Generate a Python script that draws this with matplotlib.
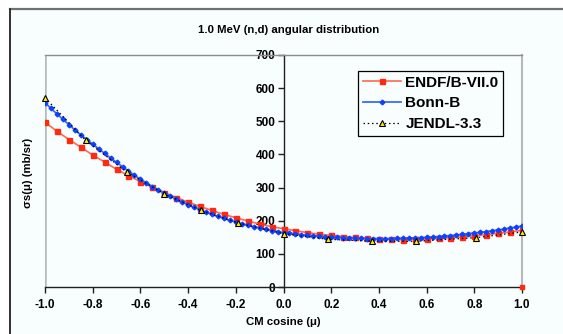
import numpy as np
import matplotlib
matplotlib.use("Agg")
import matplotlib.pyplot as plt
from matplotlib.patches import Rectangle
from matplotlib.lines import Line2D

plt.rcParams['font.family'] = ['Liberation Sans', 'DejaVu Sans']
plt.rcParams['axes.unicode_minus'] = False

# ---------------- data ----------------
title = "1.0 MeV (n,d) angular distribution"
xlabel = "CM cosine (μ)"
ylabel = "σs(μ) (mb/sr)"

endf_x = [-1.00, -0.95, -0.90, -0.85, -0.80, -0.75, -0.70, -0.65, -0.60, -0.55,
          -0.50, -0.45, -0.40, -0.35, -0.30, -0.25, -0.20, -0.15, -0.10, -0.05,
          0.00, 0.05, 0.10, 0.15, 0.20, 0.25, 0.30, 0.35, 0.40, 0.45,
          0.50, 0.55, 0.60, 0.65, 0.70, 0.75, 0.80, 0.85, 0.90, 0.95, 1.00]
endf_y = [497, 470, 445, 422, 398, 377, 355, 336, 318, 301,
          285, 270, 256, 243, 231, 219, 209, 199, 190, 182,
          176, 170, 164, 159, 156, 152, 150, 147, 145, 144,
          143, 144, 145, 147, 149, 151, 155, 158, 162, 166, 171]
endf_extra_x = [1.0]
endf_extra_y = [0]

bonn_x = [-1.000, -0.975, -0.950, -0.925, -0.900, -0.875, -0.850, -0.825, -0.800, -0.775,
          -0.750, -0.725, -0.700, -0.675, -0.650, -0.625, -0.600, -0.575, -0.550, -0.525,
          -0.500, -0.475, -0.450, -0.425, -0.400, -0.375, -0.350, -0.325, -0.300, -0.275,
          -0.250, -0.225, -0.200, -0.175, -0.150, -0.125, -0.100, -0.075, -0.050, -0.025,
          0.000, 0.025, 0.050, 0.075, 0.100, 0.125, 0.150, 0.175, 0.200, 0.225,
          0.250, 0.275, 0.300, 0.325, 0.350, 0.375, 0.400, 0.425, 0.450, 0.475,
          0.500, 0.525, 0.550, 0.575, 0.600, 0.625, 0.650, 0.675, 0.700, 0.725,
          0.750, 0.775, 0.800, 0.825, 0.850, 0.875, 0.900, 0.925, 0.950, 0.975, 1.000]
bonn_y = [556, 539, 522, 506, 490, 474, 459, 445, 431, 417,
          403, 389, 376, 363, 350, 337, 325, 314, 303, 293,
          283, 274, 265, 256, 248, 240, 233, 226, 219, 213,
          207, 201, 196, 191, 186, 182, 178, 174, 170, 167,
          164, 162, 160, 158, 156, 155, 153, 152, 151, 150,
          149, 148, 147, 147, 146, 146, 146, 146, 146, 147,
          147, 148, 148, 149, 150, 151, 152, 154, 155, 157,
          159, 161, 163, 165, 167, 170, 172, 175, 178, 181, 184]

jendl_x = [-1.0, -0.83, -0.657, -0.5, -0.346, -0.19, 0.0, 0.185, 0.371, 0.556, 0.809, 1.0]
jendl_y = [571, 443, 347, 281, 231, 193, 161, 144, 138, 138, 149, 166]

xticks = [-1.0, -0.8, -0.6, -0.4, -0.2, 0.0, 0.2, 0.4, 0.6, 0.8, 1.0]
xticklabels = ["-1.0", "-0.8", "-0.6", "-0.4", "-0.2", "0.0", "0.2", "0.4", "0.6", "0.8", "1.0"]
yticks = [0, 100, 200, 300, 400, 500, 600, 700]
yticklabels = ["0", "100", "200", "300", "400", "500", "600", "700"]

# ---------------- figure ----------------
W, H = 563, 334
fig = plt.figure(figsize=(W / 100, H / 100), dpi=100, facecolor='white')

bg = '#f8fdfe'
fig.patches.append(Rectangle((10 / W, 0), 1, 1 - 9 / H, transform=fig.transFigure,
                             facecolor=bg, edgecolor='none', zorder=-10))
fig.lines.append(Line2D([9.5 / W, 1], [1 - 9 / H, 1 - 9 / H], transform=fig.transFigure,
                        color='#707070', lw=1.6))
fig.lines.append(Line2D([9.5 / W, 9.5 / W], [0, 1 - 9 / H], transform=fig.transFigure,
                        color='#303030', lw=1.4))

ax = fig.add_axes([45 / W, 1 - 287 / H, (522 - 45) / W, (287 - 55) / H])
ax.set_facecolor(bg)
ax.set_xlim(-1, 1)
ax.set_ylim(0, 700)

# frame
ax.spines['top'].set_color('#8c8c8c')
ax.spines['right'].set_color('#b8b8b8')
ax.spines['top'].set_linewidth(1.0)
ax.spines['right'].set_linewidth(1.5)
ax.axvline(-1, color='#b8b8b8', lw=1.8, zorder=0)
ax.spines['left'].set_position(('data', 0))
ax.spines['left'].set_color('#202020')
ax.spines['left'].set_linewidth(1.0)
ax.spines['bottom'].set_color('#202020')
ax.spines['bottom'].set_linewidth(1.0)

ax.set_xticks(xticks)
ax.set_xticklabels(xticklabels, fontsize=8.5, fontweight='bold')
ax.set_yticks(yticks)
ax.set_yticklabels(yticklabels, fontsize=8.5, fontweight='bold')
ax.tick_params(axis='x', direction='out', length=4, width=1, pad=5, color='#202020')
ax.tick_params(axis='y', direction='out', length=4, width=1, pad=2, color='#202020')

# series
ax.plot(endf_x, endf_y, color='#ff6a50', lw=1.2, marker='s', ms=3.6,
        mfc='#ff2a10', mec='#ff2a10', label='ENDF/B-VII.0', zorder=3)
ax.plot(endf_extra_x, endf_extra_y, ls='none', marker='s', ms=3.0,
        mfc='#ff2a10', mec='#ff2a10', clip_on=False, zorder=3)
ax.plot(bonn_x, bonn_y, color='#3a6cf0', lw=1.3, marker='D', ms=2.4,
        mfc='#1040ff', mec='#1040ff', label='Bonn-B', zorder=4)
ax.plot(jendl_x, jendl_y, color='black', lw=0.9, ls=(0, (1.2, 2.2)), marker='^', ms=5,
        mfc='#ffee00', mec='black', mew=0.8, label='JENDL-3.3', zorder=5, clip_on=False)

leg = ax.legend(loc='upper left', bbox_to_anchor=((358 - 45) / (522 - 45), (287 - 71) / (287 - 55)),
                frameon=True, fancybox=False, framealpha=1, facecolor=bg, edgecolor='black',
                prop={'size': 11, 'weight': 'bold'}, handlelength=2.5, handletextpad=0.3,
                borderpad=0.3, labelspacing=0.45, borderaxespad=0)
leg.get_frame().set_linewidth(0.9)

fig.text(289 / W, 1 - 30 / H, title, ha='center', va='center', fontsize=8.2, fontweight='bold')
fig.text(283 / W, 1 - 322 / H, xlabel, ha='center', va='center', fontsize=8.2, fontweight='bold')
fig.text(28 / W, 1 - 173 / H, ylabel, ha='center', va='center', rotation=90, fontsize=8.2,
         fontweight='bold')

fig.savefig('out.png', dpi=100, facecolor='white')
